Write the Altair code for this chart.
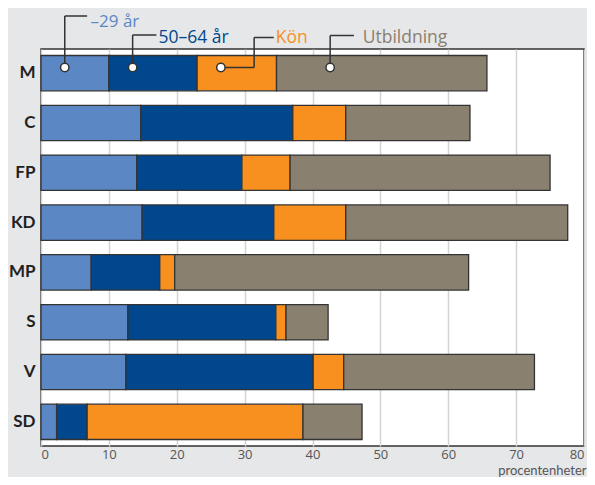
import altair as alt
import pandas as pd

parties = ["M", "C", "FP", "KD", "MP", "S", "V", "SD"]
groups = ["–29 år", "50–64 år", "Kön", "Utbildning"]
colors = ["#5b87c5", "#00478d", "#f7901e", "#8a8070"]

# segment lengths (procentenheter) per party, in group order
seg_young = [10.0, 14.7, 14.1, 14.9, 7.4, 12.8, 12.5, 2.3]
seg_old = [13.0, 22.4, 15.5, 19.4, 10.1, 21.8, 27.6, 4.5]
seg_kon = [11.7, 7.8, 7.1, 10.6, 2.2, 1.5, 4.5, 31.8]
seg_utb = [31.0, 18.3, 38.3, 32.7, 43.3, 6.2, 28.1, 8.7]

rows = []
for gi, (g, vals) in enumerate(zip(groups, [seg_young, seg_old, seg_kon, seg_utb])):
    for p, v in zip(parties, vals):
        rows.append({"party": p, "group": g, "value": v, "order": gi})
df = pd.DataFrame(rows)

FONT = "Open Sans"
xscale = alt.Scale(domain=[0, 80], nice=False, zero=True)

bars = alt.Chart(df).mark_bar(stroke="#333333", strokeWidth=1.3).encode(
    y=alt.Y("party:N", sort=parties,
            scale=alt.Scale(paddingInner=0.29, paddingOuter=0.13),
            axis=alt.Axis(title=None, labelFont="Lato", labelFontSize=17, labelFontWeight="bold",
                          labelColor="#231f20", ticks=False, domain=False, labelPadding=6)),
    x=alt.X("value:Q", stack="zero", scale=xscale,
            axis=alt.Axis(values=[0, 10, 20, 30, 40, 50, 60, 70, 80], title="procentenheter",
                          titleFont="Lato", titleFontSize=13, titleFontWeight="normal",
                          titleColor="#555555", titleAnchor="end", titleAlign="right",
                          titleX=545, titleY=28, titleBaseline="alphabetic",
                          labelFont=FONT, labelFontSize=13, labelColor="#555555",
                          labelFlush=True, labelOverlap=False,
                          ticks=False, domain=False, labelPadding=2,
                          grid=True, gridColor="#d4d4d4", gridWidth=1.5)),
    color=alt.Color("group:N", scale=alt.Scale(domain=groups, range=colors), legend=None),
    order=alt.Order("order:Q"),
)

# callout annotations: anchor x (data units), line y / text baseline (px from plot top)
ann_cx = [3.5, 13.5, 26.5, 42.6]
ann_line_y = [-33, -14, -11.5, -13.5]
ann_text_base = [-22.5, -5.7, -5.9, -5.7]
ann_text_x = [7.3, 17.3, 34.6, 47.4]
ann_elbow_x = [6.8, 17.0, 31.4, 46.1]
circle_y = 18.5

layers = [bars]
for i, g in enumerate(groups):
    d = pd.DataFrame({"cx": [ann_cx[i]], "ex": [ann_elbow_x[i]], "tx": [ann_text_x[i]],
                      "label": [g]})
    base = alt.Chart(d)
    if g == "Kön":
        layers.append(base.mark_rule(color="#333333", strokeWidth=1.5).encode(
            x="cx:Q", x2="ex:Q", y=alt.value(circle_y)))
        layers.append(base.mark_rule(color="#333333", strokeWidth=1.5).encode(
            x="ex:Q", y=alt.value(circle_y), y2=alt.value(ann_line_y[i])))
        d2 = pd.DataFrame({"ex": [ann_elbow_x[i]], "ex2": [ann_text_x[i] - 0.3]})
        layers.append(alt.Chart(d2).mark_rule(color="#333333", strokeWidth=1.5).encode(
            x="ex:Q", x2="ex2:Q", y=alt.value(ann_line_y[i])))
    else:
        layers.append(base.mark_rule(color="#333333", strokeWidth=1.5).encode(
            x="cx:Q", y=alt.value(circle_y), y2=alt.value(ann_line_y[i])))
        layers.append(base.mark_rule(color="#333333", strokeWidth=1.5).encode(
            x="cx:Q", x2="ex:Q", y=alt.value(ann_line_y[i])))
    layers.append(base.mark_point(filled=True, fill="white", stroke="#333333", strokeWidth=1.5,
                                  size=70, opacity=1).encode(
        x="cx:Q", y=alt.value(circle_y)))
    layers.append(base.mark_text(font=FONT, fontSize=17.5 if i else 17, align="left",
                                 baseline="alphabetic", color=colors[i]).encode(
        x="tx:Q", y=alt.value(ann_text_base[i]), text="label:N"))

chart = alt.layer(*layers).properties(
    width=543, height=397,
    autosize=alt.AutoSizeParams(type="none"),
    padding={"left": 33, "top": 41, "right": 3, "bottom": 31},
    background="#e6e7e9",
).configure_view(fill="white", stroke="#333333", strokeWidth=1.5)

chart.save("out.html", embed_options={"renderer": "svg", "actions": False})
